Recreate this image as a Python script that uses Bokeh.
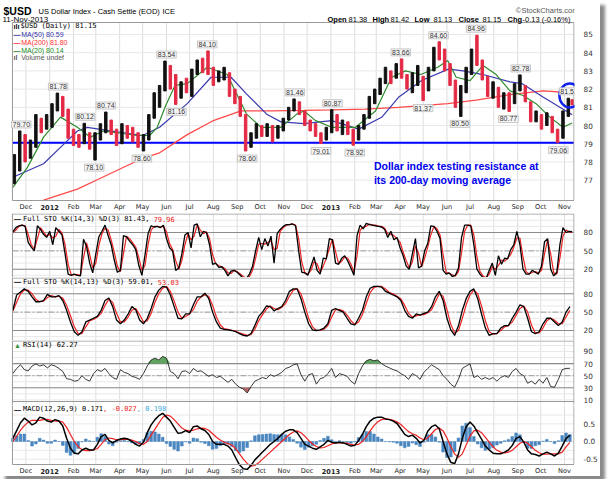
import numpy as np
import pandas as pd
from bokeh.plotting import figure
from bokeh.models import FixedTicker, Label, Range1d
from bokeh.layouts import column
from bokeh.embed import file_html
from bokeh.resources import INLINE

# ------------------------------------------------------------------ data
origin_date = "2011-11-14"

month_starts = ["2011-12-01", "2012-01-01", "2012-02-01", "2012-03-01", "2012-04-01", "2012-05-01",
                "2012-06-01", "2012-07-01", "2012-08-01", "2012-09-01", "2012-10-01", "2012-11-01",
                "2012-12-01", "2013-01-01", "2013-02-01", "2013-03-01", "2013-04-01", "2013-05-01",
                "2013-06-01", "2013-07-01", "2013-08-01", "2013-09-01", "2013-10-01", "2013-11-01"]
month_labels = ["Dec", "2012", "Feb", "Mar", "Apr", "May", "Jun", "Jul", "Aug", "Sep", "Oct", "Nov",
                "Dec", "2013", "Feb", "Mar", "Apr", "May", "Jun", "Jul", "Aug", "Sep", "Oct", "Nov"]

price_ticks = [77, 78, 79, 80, 81, 82, 83, 84, 85]

week_first = "2011-11-16"
week_last = "2013-11-11"
week_high = [78.4, 79.7, 79.5, 79.2, 80.6, 80.4, 80.6, 81.2, 81.78, 81.6,
             80.9, 79.8, 79.5, 80.12, 79.6, 79.6, 80.1, 80.74, 80.3, 79.8,
             80.1, 80.0, 79.9, 79.6, 79.5, 80.6, 81.8, 82.2, 83.54, 83.3,
             82.8, 82.4, 82.6, 83.1, 83.6, 83.7, 84.10, 83.2, 83.0, 83.2,
             82.9, 82.0, 81.6, 80.6, 79.6, 80.1, 80.0, 80.1, 80.0, 80.0,
             80.4, 81.0, 81.46, 81.3, 80.8, 80.3, 80.1, 79.6, 79.9, 80.87,
             80.6, 80.3, 80.2, 79.8, 80.0, 80.6, 81.6, 82.0, 82.6, 83.2,
             83.0, 83.4, 83.66, 82.8, 82.9, 83.3, 82.7, 83.2, 84.3, 84.60,
             84.2, 83.4, 82.5, 82.2, 83.2, 84.2, 84.96, 83.6, 82.7, 82.4,
             82.1, 81.8, 81.8, 82.3, 82.78, 82.2, 81.3, 80.8, 80.6, 80.7,
             80.5, 79.8, 80.8, 81.5, 81.42]
week_low = [76.8, 77.5, 78.0, 78.2, 78.8, 79.6, 79.8, 79.9, 80.8, 80.5,
            79.3, 78.9, 78.8, 79.0, 78.7, 78.10, 79.2, 79.6, 79.5, 78.9,
            79.0, 79.3, 79.1, 78.8, 78.60, 79.2, 80.4, 81.0, 81.9, 82.0,
            81.16, 81.5, 81.8, 81.6, 82.8, 82.9, 82.8, 82.2, 82.4, 82.5,
            81.6, 81.2, 80.5, 78.60, 78.8, 79.3, 79.4, 79.4, 79.1, 79.3,
            79.7, 80.3, 80.8, 80.6, 80.0, 79.7, 79.4, 79.01, 79.2, 79.6,
            79.7, 79.5, 79.5, 78.92, 79.2, 79.8, 80.4, 81.2, 81.7, 82.3,
            82.3, 82.6, 82.6, 82.0, 81.8, 82.2, 81.37, 81.9, 83.0, 83.6,
            83.0, 82.2, 81.0, 80.50, 81.8, 82.8, 83.3, 82.5, 81.6, 81.5,
            81.0, 80.9, 80.77, 81.2, 81.9, 81.3, 80.2, 80.2, 79.8, 80.0,
            79.6, 79.06, 79.3, 80.5, 81.13]
week_close = [77.5, 79.4, 78.3, 78.9, 80.2, 80.0, 80.3, 81.0, 81.3, 80.7,
              79.5, 79.2, 79.0, 79.9, 78.9, 79.4, 79.8, 80.3, 79.7, 79.0,
              79.9, 79.6, 79.4, 79.0, 79.3, 80.4, 81.5, 82.0, 83.2, 82.4,
              81.6, 82.2, 81.9, 83.0, 83.3, 83.2, 83.0, 82.6, 82.7, 82.8,
              81.8, 81.3, 80.6, 79.0, 79.4, 79.9, 79.6, 79.7, 79.3, 79.8,
              80.2, 80.8, 81.2, 80.7, 80.2, 79.9, 79.6, 79.3, 79.7, 80.5,
              79.9, 80.1, 79.7, 79.1, 79.8, 80.4, 81.4, 81.8, 82.5, 82.8,
              82.6, 83.1, 82.8, 82.2, 82.4, 82.6, 81.9, 83.0, 84.1, 83.9,
              83.2, 82.5, 81.2, 81.9, 83.0, 84.0, 83.5, 82.8, 81.9, 82.0,
              81.3, 81.4, 81.3, 82.1, 82.3, 81.4, 80.4, 80.5, 80.0, 80.4,
              79.8, 79.2, 80.7, 81.3, 81.15]

ma50_dates = ["2011-11-14", "2011-12-24", "2012-01-15", "2012-02-06", "2012-02-19", "2012-03-20",
              "2012-05-01", "2012-05-23", "2012-06-28", "2012-07-29", "2012-08-24", "2012-09-13",
              "2012-10-10", "2012-10-28", "2012-11-27", "2013-01-02", "2013-02-06", "2013-03-08",
              "2013-03-30", "2013-04-29", "2013-06-03", "2013-06-22", "2013-07-18", "2013-08-22",
              "2013-09-07", "2013-10-04", "2013-10-26", "2013-11-11"]
ma50_vals = [77.16, 77.9, 78.8, 79.7, 79.9, 79.7, 79.45, 79.9, 81.2, 82.65, 82.65, 81.74, 80.6, 80.2,
             80.1, 80.27, 79.8, 80.45, 81.55, 82.47, 83.1, 83.0, 82.8, 82.4, 82.3, 81.56, 81.0, 80.59]

ma200_dates = ["2011-12-24", "2012-02-06", "2012-03-07", "2012-05-01", "2012-05-23", "2012-06-28",
               "2012-07-31", "2012-09-06", "2012-10-15", "2012-11-27", "2013-01-02", "2013-02-15",
               "2013-03-30", "2013-06-02", "2013-07-09", "2013-08-22", "2013-10-04", "2013-11-11"]
ma200_vals = [75.9, 76.5, 77.1, 78.2, 78.5, 79.5, 80.25, 80.8, 80.8, 80.83, 80.86, 80.9, 81.0, 81.2,
              81.4, 81.7, 81.9, 81.8]

ma20_dates = ["2011-11-14", "2011-12-03", "2011-12-24", "2012-01-15", "2012-02-06", "2012-02-23",
              "2012-03-11", "2012-03-29", "2012-04-23", "2012-05-10", "2012-05-20", "2012-05-31",
              "2012-06-12", "2012-06-28", "2012-07-24", "2012-08-19", "2012-09-13", "2012-10-02",
              "2012-10-28", "2012-11-18", "2012-11-27", "2012-12-12", "2013-01-02", "2013-02-02",
              "2013-02-28", "2013-03-21", "2013-04-08", "2013-04-28", "2013-05-20", "2013-06-02",
              "2013-06-13", "2013-07-01", "2013-07-18", "2013-08-04", "2013-08-22", "2013-09-08",
              "2013-09-25", "2013-10-13", "2013-10-30", "2013-11-11"]
ma20_vals = [76.6, 77.7, 79.36, 80.46, 79.9, 79.36, 79.7, 79.6, 79.45, 79.45, 79.9, 81.1,
             82.2, 82.3, 83.2, 82.8, 80.64, 79.9, 79.9, 80.64, 80.8, 80.27, 79.9, 79.9,
             80.8, 82.65, 83.0, 82.8, 83.2, 83.57, 82.65, 82.47, 83.3, 82.8, 81.9, 81.65,
             81.2, 80.46, 79.9, 80.14]

peak_dates = ["2011-11-25", "2012-01-12", "2012-02-16", "2012-02-28", "2012-03-14", "2012-04-30",
              "2012-06-01", "2012-06-14", "2012-07-24", "2012-09-14", "2012-11-15", "2012-12-19",
              "2013-01-03", "2013-02-01", "2013-04-02", "2013-05-01", "2013-05-21", "2013-06-18",
              "2013-07-09", "2013-08-20", "2013-09-05", "2013-10-24", "2013-11-07"]
peak_vals = [79.70, 81.78, 80.12, 78.10, 80.74, 78.60, 83.54, 81.16, 84.10, 78.60, 81.46, 79.01,
             80.87, 78.92, 83.66, 81.37, 84.60, 80.50, 84.96, 80.77, 82.78, 79.06, 81.52]
peak_above = [1, 1, 1, 0, 1, 0, 1, 0, 1, 0, 1, 0, 1, 0, 1, 0, 1, 0, 1, 0, 1, 0, 1]

support_level = 79.05
circle_date, circle_value = "2013-11-08", 81.65
note_date = "2013-02-26"
note_lines = ["Dollar index testing resistance at", "its 200-day moving average"]
note_values = [77.77, 77.03]

sto1_step, osc_step = 4, 5
sto1_k = [81, 88, 91, 92, 90, 64, 56, 50, 91, 85,
          77, 72, 82, 60, 88, 82, 76, 45, 12, 10,
          12, 10, 9, 69, 57, 30, 14, 45, 73, 82,
          92, 75, 60, 35, 15, 18, 75, 73, 66, 60,
          52, 26, 10, 43, 78, 91, 89, 90, 88, 92,
          70, 55, 50, 18, 22, 45, 76, 80, 55, 92,
          94, 73, 82, 80, 60, 28, 30, 23, 24, 18,
          9, 17, 18, 15, 10, 5, 5, 12, 25, 50,
          72, 52, 70, 58, 74, 30, 78, 85, 90, 93,
          93, 94, 91, 50, 15, 14, 10, 25, 40, 18,
          12, 38, 37, 70, 68, 30, 28, 38, 42, 33,
          22, 10, 75, 92, 86, 95, 93, 92, 91, 90,
          89, 85, 72, 82, 68, 72, 55, 42, 25, 20,
          45, 70, 22, 25, 50, 62, 91, 90, 82, 70,
          18, 12, 14, 8, 10, 22, 72, 92, 92, 91,
          60, 20, 12, 6, 5, 18, 30, 10, 42, 28,
          38, 37, 52, 60, 82, 60, 20, 12, 12, 18,
          15, 12, 25, 65, 70, 20, 9, 15, 60, 88,
          80, 82, 81.4]
sto1_d = [80, 84, 90, 92, 91, 77, 60, 53, 70, 88,
          81, 74, 77, 71, 74, 85, 79, 60, 28, 11,
          11, 11, 10, 39, 63, 44, 22, 30, 59, 78,
          87, 84, 68, 48, 25, 16, 46, 74, 70, 63,
          56, 39, 18, 26, 60, 84, 90, 90, 89, 90,
          81, 62, 52, 34, 20, 34, 60, 78, 68, 74,
          93, 84, 78, 81, 70, 44, 29, 26, 24, 21,
          14, 13, 18, 16, 12, 8, 5, 8, 18, 38,
          61, 62, 61, 64, 66, 52, 54, 82, 88, 92,
          93, 94, 92, 70, 32, 14, 12, 18, 32, 29,
          15, 25, 38, 54, 69, 49, 29, 33, 40, 38,
          28, 16, 42, 84, 89, 90, 94, 92, 92, 90,
          90, 87, 78, 77, 75, 70, 64, 48, 34, 22,
          32, 58, 46, 24, 38, 56, 76, 90, 86, 76,
          44, 15, 13, 11, 9, 16, 47, 82, 92, 92,
          76, 40, 16, 9, 6, 12, 24, 20, 26, 35,
          33, 38, 44, 56, 71, 71, 40, 16, 12, 15,
          16, 14, 18, 45, 68, 45, 14, 12, 38, 74,
          84, 81, 79.96]
sto2_k = [53, 78, 83, 88, 84, 75, 67, 67, 69, 79,
          75, 75, 77, 69, 53, 34, 18, 12, 18, 34,
          37, 40, 43, 53, 69, 73, 59, 37, 31, 37,
          47, 59, 54, 37, 31, 40, 56, 75, 86, 92,
          91, 78, 59, 40, 39, 47, 47, 62, 75, 75,
          81, 72, 50, 34, 24, 22, 21, 20, 18, 15,
          12, 11, 15, 28, 43, 50, 60, 59, 52, 56,
          59, 69, 84, 88, 88, 72, 50, 31, 21, 20,
          21, 24, 31, 53, 56, 53, 50, 40, 31, 29,
          40, 53, 75, 89, 92, 92, 91, 84, 81, 78,
          75, 69, 53, 43, 40, 47, 45, 48, 50, 59,
          75, 84, 69, 40, 21, 12, 28, 53, 72, 84,
          88, 72, 47, 24, 12, 15, 15, 24, 28, 28,
          40, 50, 62, 59, 40, 18, 15, 18, 31, 40,
          40, 34, 28, 34, 50, 59.01]
sto2_d = [52, 66, 80, 86, 86, 80, 71, 67, 68, 74,
          77, 75, 76, 73, 61, 44, 26, 15, 15, 26,
          36, 38, 42, 48, 61, 71, 66, 48, 34, 34,
          42, 53, 56, 46, 34, 36, 48, 66, 80, 89,
          92, 84, 68, 50, 40, 43, 47, 54, 68, 75,
          78, 76, 61, 42, 29, 23, 22, 20, 19, 16,
          14, 12, 13, 22, 36, 46, 55, 60, 56, 54,
          58, 64, 76, 86, 88, 80, 61, 40, 26, 20,
          20, 22, 28, 42, 54, 54, 52, 45, 36, 30,
          34, 46, 64, 82, 90, 92, 92, 88, 82, 80,
          76, 72, 61, 48, 42, 44, 46, 46, 49, 54,
          67, 80, 76, 54, 30, 16, 20, 40, 62, 78,
          86, 80, 60, 36, 18, 14, 15, 20, 26, 28,
          34, 45, 56, 60, 50, 29, 16, 16, 24, 36,
          40, 37, 31, 31, 42, 53.03]
rsi14 = [53.5, 62, 68, 60, 58, 66, 69.5, 66, 68, 63,
         68, 66, 62, 57, 45, 44, 41, 42, 50, 44,
         41, 53.5, 60, 57, 62, 53.5, 47, 44, 60, 55.5,
         53.5, 49, 47, 44, 53.5, 66, 76, 79, 76, 82,
         79, 57, 53.5, 45, 57, 58, 53.5, 62, 57, 58,
         53.5, 49, 51.6, 47, 49, 44, 39, 44, 36, 31,
         28, 21.5, 32, 41, 44, 47, 45, 51.6, 49, 51.6,
         55.5, 62, 64, 68, 69.5, 51.6, 41, 51.6, 53.5, 36,
         45, 47, 53.5, 62, 47, 53.5, 51.6, 49, 41, 36,
         53.5, 66, 74.6, 77, 74.6, 76, 70, 66, 63, 60,
         58, 53.5, 50, 44, 53.5, 50, 44, 55.5, 62, 68,
         64, 60, 50, 44, 36, 31, 44, 62, 66, 69.5,
         47, 50, 44, 47, 44, 47, 41, 47, 50, 47,
         57, 62, 53.5, 50, 37.5, 41, 36, 44, 37.5, 47,
         32, 31, 44, 60, 62, 62.27]
macd_line = [0.09, 0.31, 0.53, 0.66, 0.58, 0.47, 0.53, 0.69, 0.66, 0.58,
             0.55, 0.62, 0.58, 0.44, 0.09, -0.19, -0.33, -0.35, -0.24, -0.19,
             -0.24, -0.24, -0.08, 0.14, 0.2, 0.03, -0.04, 0.03, 0.07, 0.09,
             0.07, 0.0, -0.08, -0.13, -0.02, 0.25, 0.47, 0.62, 0.73, 0.8,
             0.69, 0.58, 0.4, 0.23, 0.25, 0.31, 0.25, 0.42, 0.44, 0.36,
             0.31, 0.2, 0.0, -0.08, -0.08, -0.08, -0.13, -0.24, -0.46, -0.66,
             -0.77, -0.79, -0.68, -0.52, -0.41, -0.3, -0.19, -0.08, 0.0, 0.09,
             0.2, 0.29, 0.33, 0.33, 0.25, 0.09, -0.08, -0.13, -0.19, -0.22,
             -0.15, -0.08, 0.03, -0.02, -0.04, -0.02, -0.04, -0.08, -0.13, -0.11,
             0.03, 0.2, 0.42, 0.58, 0.66, 0.69, 0.69, 0.64, 0.62, 0.58,
             0.51, 0.36, 0.2, 0.14, 0.18, 0.09, -0.04, 0.03, 0.29, 0.42,
             0.47, 0.36, 0.0, -0.35, -0.59, -0.63, -0.35, 0.09, 0.42, 0.55,
             0.44, 0.25, 0.07, -0.13, -0.24, -0.33, -0.35, -0.35, -0.3, -0.24,
             -0.11, 0.09, 0.14, -0.02, -0.24, -0.35, -0.37, -0.41, -0.35, -0.3,
             -0.35, -0.41, -0.33, -0.13, 0.09, 0.171]
macd_signal = [0.0, 0.15, 0.32, 0.45, 0.55, 0.6, 0.6, 0.6, 0.62, 0.63,
               0.6, 0.58, 0.58, 0.55, 0.4, 0.2, 0.0, -0.15, -0.23, -0.26,
               -0.26, -0.24, -0.2, -0.08, 0.05, 0.1, 0.08, 0.05, 0.05, 0.06,
               0.06, 0.04, 0.0, -0.06, -0.08, 0.0, 0.18, 0.35, 0.52, 0.68,
               0.75, 0.72, 0.62, 0.5, 0.38, 0.32, 0.3, 0.32, 0.36, 0.38,
               0.37, 0.32, 0.22, 0.12, 0.04, -0.02, -0.06, -0.1, -0.2, -0.35,
               -0.5, -0.62, -0.7, -0.68, -0.6, -0.5, -0.4, -0.3, -0.2, -0.1,
               0.0, 0.1, 0.2, 0.27, 0.3, 0.25, 0.15, 0.03, -0.07, -0.14,
               -0.18, -0.17, -0.12, -0.07, -0.04, -0.04, -0.04, -0.05, -0.08, -0.1,
               -0.08, 0.0, 0.14, 0.3, 0.45, 0.56, 0.62, 0.64, 0.63, 0.6,
               0.56, 0.48, 0.38, 0.28, 0.22, 0.18, 0.1, 0.05, 0.1, 0.22,
               0.34, 0.38, 0.3, 0.1, -0.15, -0.35, -0.45, -0.35, -0.1, 0.15,
               0.3, 0.32, 0.25, 0.12, -0.02, -0.15, -0.25, -0.3, -0.32, -0.3,
               -0.25, -0.15, -0.05, 0.0, -0.05, -0.15, -0.25, -0.32, -0.36, -0.36,
               -0.35, -0.35, -0.35, -0.3, -0.15, -0.027]

# ------------------------------------------------------------------ helpers
O = pd.Timestamp(origin_date)


def to_day(dates):
    return [(pd.Timestamp(d) - O).days for d in dates]


def grid_days(n, step):
    return to_day(pd.date_range(origin_date, periods=n, freq=f"{step}D"))


W = 600
XR = Range1d(-16.04, 731.0)          # frame spans page x 0..577
XS_BOX, XE_BOX = -0.5, 730.3         # panel boxes at page x 12..576.5
month_days = to_day(month_starts)
RED = "#ee2222"
GRID = "#dedede"
BOX = "#9a9a9a"
MONO = "DejaVu Sans Mono"


def txt(p, x, y, text, xo=0, yo=0, size="7px", color="#000000", font="Liberation Sans",
        style="normal", align="left", baseline="middle", **kw):
    p.add_layout(Label(x=x, y=y, x_offset=xo, y_offset=yo, text=text, text_font_size=size,
                       text_color=color, text_font=font, text_font_style=style,
                       text_align=align, text_baseline=baseline, **kw))


def ptxt(p, px, py, text, **kw):
    # px, py: pixels from this figure's top-left corner
    txt(p, XR.start, p.y_range.end, text, xo=px, yo=-py, **kw)


def panel(h, lo, hi, yticks, ylabels=None):
    p = figure(width=W, height=h, x_range=XR, y_range=Range1d(lo, hi), output_backend="svg",
               toolbar_location=None, title=None, x_axis_location=None, y_axis_location="right",
               min_border_left=0, min_border_right=23, min_border_top=0, min_border_bottom=0)
    p.grid.visible = False
    p.outline_line_color = None
    p.border_fill_color = "white"
    p.background_fill_color = "white"
    ya = p.yaxis[0]
    ya.ticker = FixedTicker(ticks=yticks)
    ya.axis_line_color = None
    ya.major_tick_line_color = None
    ya.minor_tick_line_color = None
    ya.major_label_standoff = 3
    ya.major_label_text_font = "DejaVu Sans"
    ya.major_label_text_font_size = "7.3px"
    ya.major_label_text_color = "#333333"
    if ylabels:
        ya.major_label_overrides = ylabels
    return p


def vpx(p, py):
    # value at py pixels below the figure's top
    lo, hi = p.y_range.start, p.y_range.end
    return hi - py * (hi - lo) / p.height


def grids(p, y0, y1, hlevels):
    p.segment(x0=month_days, x1=month_days, y0=y0, y1=y1, line_color=GRID, line_width=1)
    if hlevels:
        p.segment(x0=XS_BOX, x1=XE_BOX, y0=hlevels, y1=hlevels, line_color="#e8e8e8", line_width=1)


def sides(p, y0, y1, hlines=()):
    p.segment(x0=[XS_BOX, XE_BOX], x1=[XS_BOX, XE_BOX], y0=y0, y1=y1, line_color=BOX, line_width=1)
    if hlines:
        p.segment(x0=XS_BOX, x1=XE_BOX, y0=list(hlines), y1=list(hlines), line_color=BOX, line_width=1)


def levels(p, solid, dashed):
    p.segment(x0=XS_BOX, x1=XE_BOX, y0=solid, y1=solid, line_color="#8c8c8c", line_width=1.1)
    p.segment(x0=XS_BOX, x1=XE_BOX, y0=dashed, y1=dashed, line_color="#9a9a9a", line_width=1,
              line_dash="6 2 2 2")


def month_axis(p, py):
    for d, l in zip(month_days, month_labels):
        txt(p, d, p.y_range.end, l, yo=-py, size="6.6px", font="DejaVu Sans",
            style="bold" if l.isdigit() else "normal", align="center", color="#222222")


def osc_header(p, py, parts, icon="\u2014", icon_color="#000000"):
    ptxt(p, 13.5, py, icon, size="7px", style="bold", color=icon_color)
    px = 22.5
    for t, c in parts:
        ptxt(p, px, py, t, size="7px", font=MONO, color=c)
        px += len(t) * 0.602 * 7


# ------------------------------------------------------------------ main price panel
pm = panel(213, 75.165, 86.868, price_ticks)
PB0, PB1 = vpx(pm, 200), vpx(pm, 22)
grids(pm, PB0, PB1, price_ticks)
pm.segment(x0=XS_BOX, x1=XE_BOX, y0=support_level, y1=support_level, line_color="#0000ff", line_width=2)
pm.line(to_day(ma200_dates), ma200_vals, line_color="#ff4a4a", line_width=1.3)
pm.line(to_day(ma50_dates), ma50_vals, line_color="#3a3aae", line_width=1.2)
pm.line(to_day(ma20_dates), ma20_vals, line_color="#2e8b2e", line_width=1.2)
wx = to_day(list(pd.date_range(week_first, periods=len(week_high) - 1, freq="7D")) + [week_last])
bar_colors = ["#111111"] + ["#e42a45" if c < pc else "#111111"
                            for pc, c in zip(week_close[:-1], week_close[1:])]
pm.vbar(x=wx, top=week_high, bottom=week_low, width=3.2, color=bar_colors)
pm.quad(left=XS_BOX, right=XE_BOX, bottom=PB0, top=PB1, fill_color=None, line_color=BOX, line_width=1)

for d, v, up in zip(to_day(peak_dates), peak_vals, peak_above):
    pm.add_layout(Label(x=d, y=v, y_offset=3 if up else -4, text=f"{v:.2f}", text_font="Liberation Sans",
                        text_font_size="7px", text_color="#333333", text_align="center",
                        text_baseline="bottom" if up else "top", background_fill_color="#f6f6f6",
                        border_line_color="#bbbbbb", border_line_width=0.8, padding=1))

pm.ellipse(x=to_day([circle_date]), y=[circle_value], width=21, height=24, width_units="screen",
           height_units="screen", fill_color=None, line_color="#1122ee", line_width=2.5)
for line, v in zip(note_lines, note_values):
    txt(pm, to_day([note_date])[0], v, line, size="10.5px", style="bold", color="#0000ee")

# header
ptxt(pm, 3, 10.5, "$USD", size="10.5px", style="bold", baseline="alphabetic")
ptxt(pm, 38, 10.5, "US Dollar Index - Cash Settle (EOD)", size="7.5px", baseline="alphabetic")
ptxt(pm, 162, 10.5, "ICE", size="7.5px", baseline="alphabetic")
ptxt(pm, 2, 18.5, "11-Nov-2013", size="8px", baseline="alphabetic")
ptxt(pm, 578, 9.5, "\u00a9StockCharts.com", size="7.5px", color="#555555", align="right",
     baseline="alphabetic")
quote = [("Open", 327, "bold"), ("81.38", 348, "normal"), ("High", 372, "bold"), ("81.42", 390, "normal"),
         ("Low", 414, "bold"), ("81.13", 433, "normal"), ("Close", 458, "bold"), ("81.15", 482, "normal"),
         ("Chg", 507, "bold"), ("-0.13 (-0.16%)", 522, "normal")]
for t, px, st in quote:
    ptxt(pm, px, 18.5, t, size="7.5px", style=st, baseline="alphabetic")
ptxt(pm, 574, 18.5, "\u25bc", size="6px", color="#dd0000", baseline="alphabetic")

# legend inside the price panel
ptxt(pm, 13, 25.5, "\u0131l\u0131", size="7px", style="bold")
ptxt(pm, 20, 25.5, "$USD (Daily) 81.15", size="7px", font=MONO)
for i, (t, c) in enumerate([("MA(50) 80.59", "#3333aa"), ("MA(200) 81.80", "#ff3333"),
                            ("MA(20) 80.14", "#228b22")]):
    ptxt(pm, 13, 33.5 + 8 * i, "\u2014", size="7px", style="bold", color=c)
    ptxt(pm, 20.7, 33.5 + 8 * i, t, size="7px", color=c)
ptxt(pm, 13, 57, "\u0131l", size="7px", style="bold", color="#555555")
ptxt(pm, 20.7, 57, "Volume undef", size="7px", color="#555555")
month_axis(pm, 206.5)

# ------------------------------------------------------------------ Full STO (14,3)
p1 = panel(64, 6.43, 111.06, [20, 50, 80])
grids(p1, 6.43, 111.06, list(range(10, 101, 10)))
levels(p1, [20, 80], [50])
p1.line(grid_days(len(sto1_d), sto1_step), sto1_d, line_color=RED, line_width=1.2)
p1.line(grid_days(len(sto1_k), sto1_step), sto1_k, line_color="#000000", line_width=1.3)
sides(p1, 6.43, 111.06, [vpx(p1, 0.5)])
osc_header(p1, 5.3, [("Full STO %K(14,3) %D(3) 81.43, ", "#000000"), ("79.96", RED)])

# ------------------------------------------------------------------ Full STO (14,13)
p2 = panel(63, 3.65, 106.6, [20, 50, 80])
grids(p2, 3.65, 106.6, list(range(10, 101, 10)))
levels(p2, [20, 80], [50])
p2.line(grid_days(len(sto2_d), osc_step), sto2_d, line_color=RED, line_width=1.2)
p2.line(grid_days(len(sto2_k), osc_step), sto2_k, line_color="#000000", line_width=1.3)
sides(p2, 3.65, 106.6, [vpx(p2, 0.5)])
osc_header(p2, 4.3, [("Full STO %K(14,13) %D(3) 59.01, ", "#000000"), ("53.03", RED)])

# ------------------------------------------------------------------ RSI
p3 = panel(65, 0.744, 108.18, [10, 30, 50, 70, 90])
RB = vpx(p3, 61)      # bottom of the RSI box (page y 401)
grids(p3, 0.744, 108.18, list(range(10, 101, 10)))
levels(p3, [30, 70], [50])
xr3 = grid_days(len(rsi14), osc_step)
r = np.array(rsi14, dtype=float)
p3.varea(x=xr3, y1=np.full(len(r), 70.0), y2=np.maximum(r, 70), fill_color="#4f9a4f", fill_alpha=0.9)
p3.varea(x=xr3, y1=np.minimum(r, 30), y2=np.full(len(r), 30.0), fill_color="#b05a5a", fill_alpha=0.9)
p3.line(xr3, rsi14, line_color="#222222", line_width=0.9)
sides(p3, 0.744, 108.18, [vpx(p3, 0.5), RB])
osc_header(p3, 4.7, [("RSI(14) 62.27", "#000000")], icon="\u25b2", icon_color="#3d8b3d")

# ------------------------------------------------------------------ MACD
p4 = panel(71, -0.9915, 1.0198, [-0.5, 0, 0.5], ylabels={0.5: "0.5", 0: "0.0", -0.5: "-0.5"})
MB = vpx(p4, 59)      # bottom of the MACD box (page y 464)
grids(p4, MB, 1.0198, [-0.5, -0.25, 0, 0.25, 0.5, 0.75])
xm = grid_days(len(macd_line), osc_step)
hist = np.array(macd_line) - np.array(macd_signal)
p4.vbar(x=xm, top=hist, bottom=0, width=3.6, fill_color="#4a86c0", line_color="#4a86c0", line_width=0.5)
p4.line(xm, macd_signal, line_color=RED, line_width=1.2)
p4.line(xm, macd_line, line_color="#000000", line_width=1.5)
sides(p4, MB, 1.0198, [MB])
osc_header(p4, 3.6, [("MACD(12,26,9) 0.171", "#000000"), (", -0.027", RED), (", 0.198", "#3fa7dc")])
month_axis(p4, 65.5)

layout = column(pm, p1, p2, p3, p4, styles={"box-shadow": "5px 5px 3px #8a8a8a"})
open("out.html", "w").write(file_html(layout, INLINE))
